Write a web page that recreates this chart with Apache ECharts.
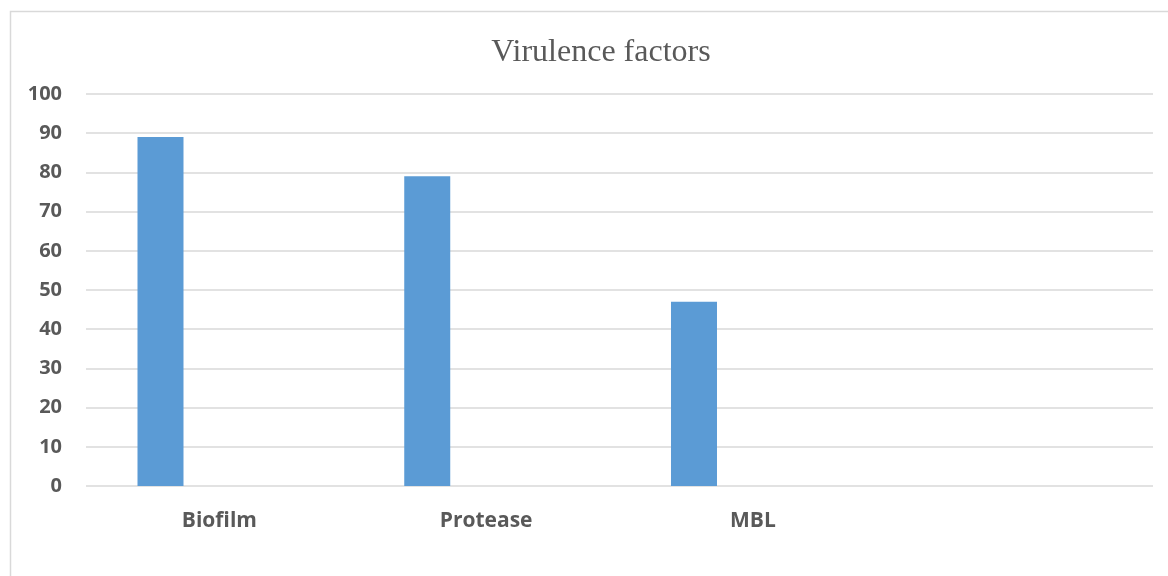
<!DOCTYPE html>
<html>
<head>
<meta charset="utf-8">
<script src="https://cdn.jsdelivr.net/npm/echarts@6/dist/echarts.min.js"></script>
<style>
  html, body { margin: 0; padding: 0; background: #ffffff; }
  #chart { width: 1168px; height: 576px; }
</style>
</head>
<body>
<div id="chart"></div>
<script>
// Categories on the x axis (the last slot is left blank)
const categories = ['Biofilm', 'Protease', 'MBL', ''];
// Percentage of isolates showing each virulence factor
const virulence = [89, 79, 47, null];
// Two further series slots that hold no values
const emptySeriesA = [null, null, null, null];
const emptySeriesB = [null, null, null, null];
// Y axis ticks
const yMin = 0, yMax = 100, yStep = 10;

const labelColor = '#595959';
const gridColor = '#d9d9d9';

const chart = echarts.init(document.getElementById('chart'), null, { renderer: 'canvas' });

chart.setOption({
  animation: false,
  backgroundColor: '#ffffff',
  title: {
    text: 'Virulence factors',
    left: 596,
    top: 32,
    textAlign: 'center',
    textStyle: {
      fontFamily: '"Liberation Serif", "Times New Roman", serif',
      fontWeight: 'normal',
      fontSize: 32,
      color: labelColor
    }
  },
  graphic: [{
    type: 'rect',
    shape: { x: 10.5, y: 11.5, width: 1200, height: 600 },
    style: { fill: 'none', stroke: gridColor, lineWidth: 1.5 },
    silent: true
  }],
  grid: { left: 86, right: 15, top: 94, bottom: 90, containLabel: false },
  xAxis: {
    type: 'category',
    data: categories,
    axisLine: { show: false },
    axisTick: { show: false },
    axisLabel: {
      margin: 25,
      fontFamily: '"Open Sans", sans-serif',
      fontWeight: 'bold',
      fontSize: 21,
      color: labelColor
    },
    splitLine: { show: false }
  },
  yAxis: {
    type: 'value',
    min: yMin,
    max: yMax,
    interval: yStep,
    axisLine: { show: false },
    axisTick: { show: false },
    axisLabel: {
      margin: 24,
      fontFamily: '"Open Sans", sans-serif',
      fontWeight: 'bold',
      fontSize: 20,
      color: labelColor
    },
    splitLine: { show: true, lineStyle: { color: gridColor, width: 1.5 } }
  },
  series: [
    {
      name: 'Virulence',
      type: 'bar',
      data: virulence,
      barWidth: 46,
      barGap: '28%',
      itemStyle: { color: '#5b9bd5' }
    },
    { name: 'S2', type: 'bar', data: emptySeriesA, barWidth: 46, itemStyle: { color: '#ed7d31' } },
    { name: 'S3', type: 'bar', data: emptySeriesB, barWidth: 46, itemStyle: { color: '#a5a5a5' } }
  ]
});
</script>
</body>
</html>
